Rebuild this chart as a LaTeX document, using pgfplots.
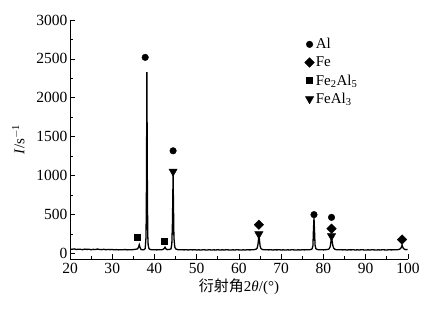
\documentclass[border=0pt]{standalone}
\usepackage{fontspec}
\setmainfont{Liberation Serif}
\newfontfamily\cjk{Noto Sans CJK SC}
\usepackage{pgfplots}
\pgfplotsset{compat=1.18}
\begin{document}
\begin{tikzpicture}
\useasboundingbox (0,0) rectangle (441pt,313pt);
\begin{axis}[
  at={(70pt,54pt)}, anchor=south west,
  scale only axis, width=338pt, height=239pt,
  xmin=20, xmax=100, ymin=-70, ymax=3000,
  axis x line=bottom, axis y line=left,
  axis line style={-, line width=0.8pt},
  tick align=inside,
  xtick={20,30,...,100}, ytick={0,500,...,3000},
  minor x tick num=1, minor y tick num=1,
  major tick length=5pt, minor tick length=3pt,
  tick style={line width=0.8pt, black},
  /pgf/number format/assume math mode=true,
  /pgf/number format/1000 sep={},
  tick label style={font=\fontsize{15.5}{17}\selectfont},
  xticklabel style={yshift=-0.5pt},
  yticklabel style={xshift=1pt},
  xlabel={{\cjk 衍射角}2\textit{θ}/(°)},
  ylabel={\textit{I}/s\textsuperscript{$-$1}},
  label style={font=\fontsize{15}{17}\selectfont},
  xlabel style={yshift=2pt},
  ylabel style={yshift=5pt},
  legend style={draw=none, fill=none, at={(0.694,0.93)}, anchor=north west,
    font=\fontsize{15}{17}\selectfont, row sep=3.5pt, inner sep=0pt,
    nodes={inner sep=1.5pt}},
  legend cell align=left,
  legend image code/.code={\draw[#1] plot coordinates {(0.18cm,0cm)};},
]
\addplot[black, line width=1.3pt, forget plot] table {
x y
20.0 58
20.5 55
21.0 60
21.5 52
22.0 56
22.5 54
23.0 50
23.5 57
24.0 53
24.5 55
25.0 49
25.5 54
26.0 51
26.5 58
27.0 52
27.5 50
28.0 55
28.5 49
29.0 53
29.5 50
30.0 52
30.5 48
31.0 51
31.5 47
32.0 50
32.5 48
33.0 52
33.5 47
34.0 50
34.5 49
35.0 51
35.5 55
36.0 60
36.2 80
36.4 115
36.6 75
36.8 52
37.0 50
37.3 48
37.6 52
37.8 65
38.0 220
38.1 900
38.2 2330
38.3 1000
38.4 240
38.5 110
38.7 62
39.0 52
39.5 48
40.0 50
40.5 47
41.0 50
41.5 48
42.0 52
42.3 65
42.5 82
42.7 60
43.0 50
43.5 53
43.9 60
44.1 120
44.25 400
44.4 1010
44.5 600
44.6 200
44.8 85
45.0 60
45.5 50
46.0 48
46.5 50
47.0 47
47.5 49
48.0 46
48.5 50
49.0 47
49.5 49
50.0 46
50.5 48
51.0 45
51.5 49
52.0 47
52.5 46
53.0 49
53.5 45
54.0 48
54.5 46
55.0 49
55.5 45
56.0 48
56.5 46
57.0 49
57.5 47
58.0 45
58.5 48
59.0 46
59.5 49
60.0 47
60.5 45
61.0 48
61.5 46
62.0 49
62.5 47
63.0 48
63.5 50
64.0 55
64.3 70
64.5 120
64.65 200
64.75 220
64.85 170
65.0 95
65.2 65
65.5 52
66.0 48
66.5 50
67.0 47
67.5 49
68.0 46
68.5 48
69.0 47
69.5 49
70.0 46
70.5 48
71.0 45
71.5 48
72.0 46
72.5 49
73.0 47
73.5 45
74.0 48
74.5 46
75.0 49
75.5 47
76.0 50
76.5 48
77.0 52
77.3 60
77.5 100
77.62 300
77.75 460
77.88 290
78.0 110
78.2 62
78.5 52
79.0 48
79.5 50
80.0 47
80.5 50
81.0 52
81.3 58
81.6 90
81.8 170
81.9 200
82.0 175
82.2 105
82.4 70
82.7 55
83.0 50
83.5 48
84.0 50
84.5 47
85.0 49
85.5 46
86.0 48
86.5 47
87.0 49
87.5 46
88.0 48
88.5 46
89.0 49
89.5 47
90.0 45
90.5 48
91.0 46
91.5 49
92.0 47
92.5 45
93.0 48
93.5 46
94.0 49
94.5 47
95.0 46
95.5 49
96.0 47
96.5 48
97.0 50
97.5 49
98.0 55
98.3 68
98.5 90
98.6 110
98.7 92
98.9 65
99.2 55
99.5 50
99.9 52
};
% Al
\addplot[only marks, mark=*, mark size=3.3pt, black, forget plot] coordinates {(37.8,2520) (44.4,1320) (77.75,500) (81.9,465)};
% Fe
\addplot[only marks, mark=square*, mark size=3.4pt, mark options={rotate=45}, black, forget plot] coordinates {(64.7,370) (81.9,320) (98.6,180)};
% Fe2Al5
\addplot[only marks, mark=square*, mark size=3pt, black, forget plot] coordinates {(36.0,205) (42.3,155)};
% FeAl3
\addplot[only marks, mark=triangle*, mark size=4.8pt, mark options={rotate=180}, black, forget plot] coordinates {(44.4,1055) (64.7,250) (81.9,225)};
\addlegendimage{only marks, mark=*, mark size=3.3pt, black}
\addlegendentry{Al}
\addlegendimage{only marks, mark=square*, mark size=3.4pt, mark options={rotate=45}, black}
\addlegendentry{Fe}
\addlegendimage{only marks, mark=square*, mark size=3pt, black}
\addlegendentry{Fe\textsubscript{2}Al\textsubscript{5}}
\addlegendimage{only marks, mark=triangle*, mark size=4.8pt, mark options={rotate=180}, black}
\addlegendentry{FeAl\textsubscript{3}}
\end{axis}
\end{tikzpicture}
\end{document}
